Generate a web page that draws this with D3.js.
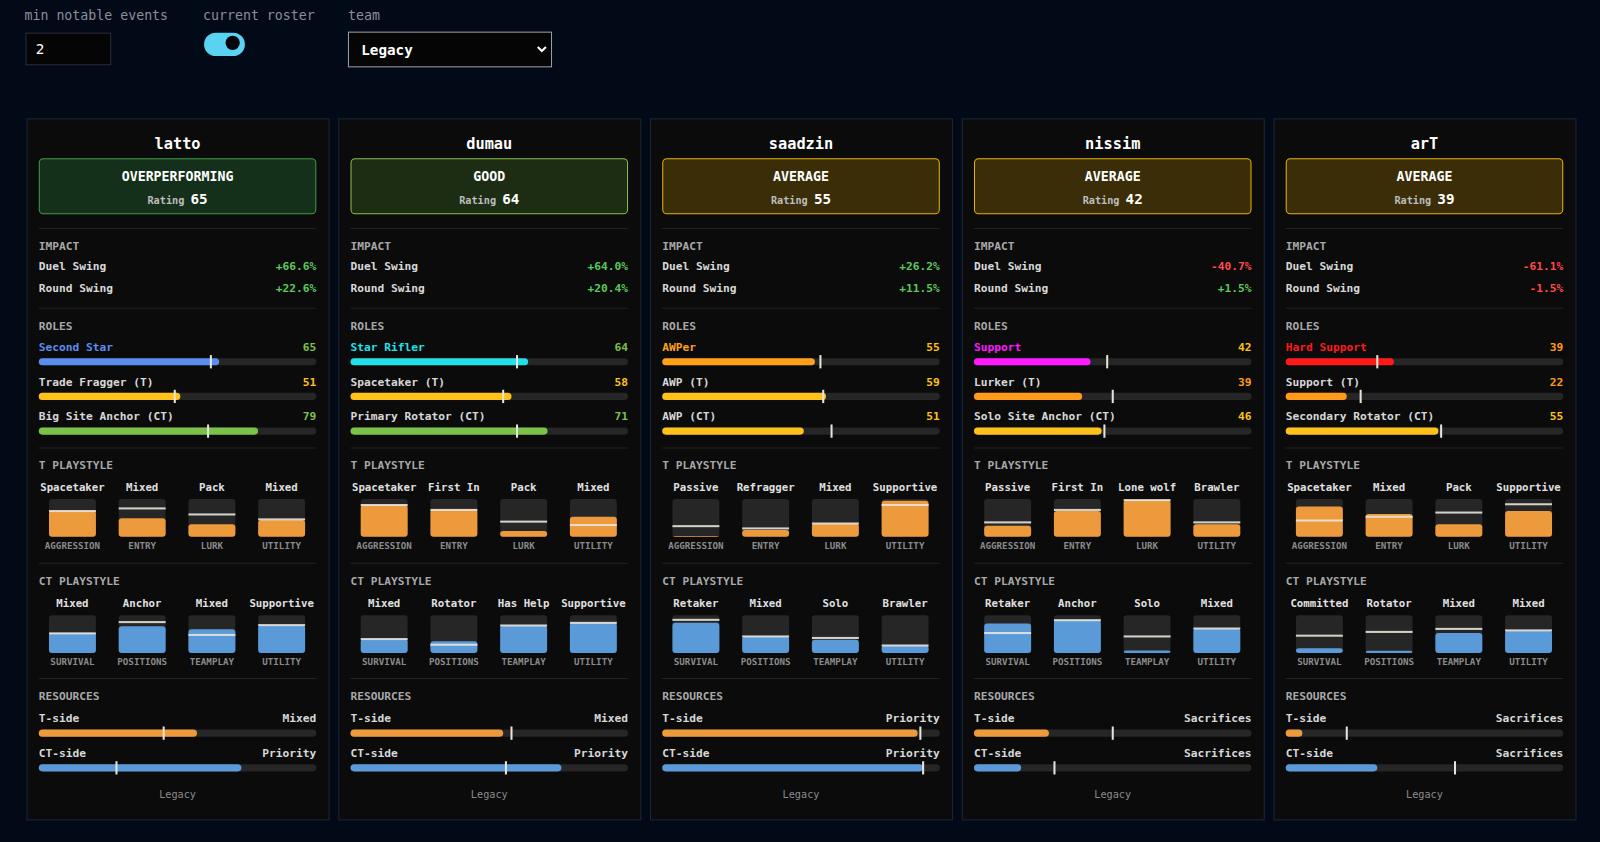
<!DOCTYPE html>
<html><head><meta charset="utf-8">
<script src="https://cdn.jsdelivr.net/npm/d3@7"></script>
<style>
body{margin:0;background:#020a18;overflow:hidden}
text{font-family:"DejaVu Sans Mono",monospace}
</style></head><body>
<svg id="chart" width="1600" height="842"></svg>
<script>
// data
const players = ["latto", "dumau", "saadzin", "nissim", "arT"];
const verdicts = ["OVERPERFORMING", "GOOD", "AVERAGE", "AVERAGE", "AVERAGE"];
const ratings = [65, 64, 55, 42, 39];
const duelSwing = [66.6, 64.0, 26.2, -40.7, -61.1];
const roundSwing = [22.6, 20.4, 11.5, 1.5, -1.5];
const roleNames = [
  ["Second Star", "Trade Fragger (T)", "Big Site Anchor (CT)"],
  ["Star Rifler", "Spacetaker (T)", "Primary Rotator (CT)"],
  ["AWPer", "AWP (T)", "AWP (CT)"],
  ["Support", "Lurker (T)", "Solo Site Anchor (CT)"],
  ["Hard Support", "Support (T)", "Secondary Rotator (CT)"]
];
const roleValues = [[65, 51, 79], [64, 58, 71], [55, 59, 51], [42, 39, 46], [39, 22, 55]];
const roleMarks = [[62, 49, 61], [60, 55, 60], [57, 58, 61], [48, 50, 47], [33, 27, 56]];
const mainRoleColors = ["#5b8def", "#22e0ea", "#ffa21a", "#ff19ff", "#ff1a1a"];
const tAxes = ["AGGRESSION", "ENTRY", "LURK", "UTILITY"];
const ctAxes = ["SURVIVAL", "POSITIONS", "TEAMPLAY", "UTILITY"];
const tLabels = [
  ["Spacetaker", "Mixed", "Pack", "Mixed"],
  ["Spacetaker", "First In", "Pack", "Mixed"],
  ["Passive", "Refragger", "Mixed", "Supportive"],
  ["Passive", "First In", "Lone wolf", "Brawler"],
  ["Spacetaker", "Mixed", "Pack", "Supportive"]
];
const tFill = [[69, 49, 33, 44], [84, 73, 15, 53], [2, 18, 35, 95], [29, 68, 97, 33], [80, 60, 33, 68]];
const tMark = [[68, 75, 59, 46], [84, 71, 40, 31], [28, 22, 35, 84], [38, 71, 97, 38], [43, 53, 64, 86]];
const ctLabels = [
  ["Mixed", "Anchor", "Mixed", "Supportive"],
  ["Mixed", "Rotator", "Has Help", "Supportive"],
  ["Retaker", "Mixed", "Solo", "Brawler"],
  ["Retaker", "Anchor", "Solo", "Mixed"],
  ["Committed", "Rotator", "Mixed", "Mixed"]
];
const ctFill = [[54, 71, 63, 74], [37, 31, 73, 80], [80, 44, 35, 20], [78, 88, 7, 65], [13, 6, 53, 60]];
const ctMark = [[52, 82, 48, 74], [37, 22, 73, 80], [88, 44, 40, 20], [53, 87, 44, 65], [46, 56, 64, 60]];
const resTLabel = ["Mixed", "Mixed", "Priority", "Sacrifices", "Sacrifices"];
const resCTLabel = ["Priority", "Priority", "Priority", "Sacrifices", "Sacrifices"];
const resTFill = [57, 55, 92, 27, 6];
const resTMark = [45, 58, 93, 50, 22];
const resCTFill = [73, 76, 94, 17, 33];
const resCTMark = [28, 56, 94, 29, 61];
const teamName = "Legacy";

const root = d3.select("#chart");
const svg = root.append("g").attr("transform", "scale(1.0204)");
const cardW = 296, cardGap = 9.5, cardX0 = 26, cardY = 116, cardH = 687;
const pad = 12, innerW = cardW - 2 * pad;
const ORANGE = "#ec9a3c", BLUE = "#5a9ad8", TRACK = "#262626";

function valColor(v) { return v >= 60 ? "#7cc24a" : v >= 40 ? "#ffc21a" : "#ff9a1a"; }
function verdictStyle(v) {
  if (v === "OVERPERFORMING") return { bg: "#15301a", st: "#3f9a48" };
  if (v === "GOOD") return { bg: "#1c2d14", st: "#86c04a" };
  return { bg: "#3a2d08", st: "#e6b400" };
}

// controls
const ctl = svg.append("g");
ctl.append("text").attr("x", 24).attr("y", 20).attr("fill", "#8a8f99").attr("font-size", 13).text("min notable events");
ctl.append("text").attr("x", 199).attr("y", 20).attr("fill", "#8a8f99").attr("font-size", 13).text("current roster");
ctl.append("text").attr("x", 341).attr("y", 20).attr("fill", "#8a8f99").attr("font-size", 13).text("team");
ctl.append("rect").attr("x", 25.5).attr("y", 32.5).attr("width", 83).attr("height", 31).attr("fill", "#050505").attr("stroke", "#2a2f38");
ctl.append("text").attr("x", 35).attr("y", 53).attr("fill", "#fff").attr("font-size", 14).text("2");
ctl.append("rect").attr("x", 200).attr("y", 32).attr("width", 40).attr("height", 23).attr("rx", 11.5).attr("fill", "#5ad3f2");
ctl.append("circle").attr("cx", 228).attr("cy", 42).attr("r", 7).attr("fill", "#05070c");
ctl.append("rect").attr("x", 341.5).attr("y", 31.5).attr("width", 199).attr("height", 34).attr("fill", "#050505").attr("stroke", "#9aa0aa");
ctl.append("text").attr("x", 354).attr("y", 54).attr("fill", "#fff").attr("font-size", 14).attr("font-weight", "bold").text(teamName);
ctl.append("path").attr("d", "M527,46 l4,4 l4,-4").attr("fill", "none").attr("stroke", "#fff").attr("stroke-width", 2);

const x = d3.scaleLinear().domain([0, 100]).range([0, innerW]);
const boxH = 37, boxW = 46;
const y = d3.scaleLinear().domain([0, 100]).range([boxH, 0]);
const boxCol = d3.scalePoint().domain(d3.range(4)).range([33, 238]);

function hbar(g, yy, fill, mark, color) {
  g.append("rect").attr("x", 0).attr("y", yy).attr("width", innerW).attr("height", 7).attr("rx", 3.5).attr("fill", TRACK);
  g.append("rect").attr("x", 0).attr("y", yy).attr("width", x(fill)).attr("height", 7).attr("rx", 3.5).attr("fill", color);
  g.append("rect").attr("x", x(mark) - 1).attr("y", yy - 3).attr("width", 2).attr("height", 13).attr("fill", "#e8e4da");
}
function divider(g, yy) {
  g.append("line").attr("x1", 0).attr("x2", innerW).attr("y1", yy).attr("y2", yy).attr("stroke", "#232323");
}
function header(g, yy, t) {
  g.append("text").attr("x", 0).attr("y", yy).attr("fill", "#a8a8a8").attr("font-size", 11).attr("font-weight", "bold").text(t);
}
function row(g, yy, left, right, rc, lc) {
  g.append("text").attr("x", 0).attr("y", yy).attr("fill", lc || "#d8d8d8").attr("font-size", 11).attr("font-weight", "bold").text(left);
  g.append("text").attr("x", innerW).attr("y", yy).attr("text-anchor", "end").attr("fill", rc || "#d8d8d8").attr("font-size", 11).attr("font-weight", "bold").text(right);
}
function boxes(g, yy, labels, axes, fills, marks, color) {
  d3.range(4).forEach(i => {
    const cx = boxCol(i), left = cx - boxW / 2;
    g.append("text").attr("x", cx).attr("y", yy).attr("text-anchor", "middle").attr("fill", "#e0e0e0").attr("font-size", 10.5).attr("font-weight", "bold").text(labels[i]);
    const by = yy + 8;
    g.append("rect").attr("x", left).attr("y", by).attr("width", boxW).attr("height", boxH).attr("rx", 3).attr("fill", TRACK);
    g.append("rect").attr("x", left).attr("y", by + y(fills[i])).attr("width", boxW).attr("height", boxH - y(fills[i])).attr("rx", 3).attr("fill", color);
    g.append("rect").attr("x", left).attr("y", by + y(marks[i]) - 1).attr("width", boxW).attr("height", 2).attr("fill", "#e8e4da").attr("opacity", 0.9);
    g.append("text").attr("x", cx).attr("y", by + boxH + 12).attr("text-anchor", "middle").attr("fill", "#8a8a8a").attr("font-size", 9).attr("font-weight", "bold").text(axes[i]);
  });
}
const fmt = v => (v >= 0 ? "+" : "") + v.toFixed(1) + "%";

players.forEach((p, k) => {
  const cx0 = cardX0 + k * (cardW + cardGap);
  const card = svg.append("g").attr("transform", `translate(${cx0},${cardY})`);
  card.append("rect").attr("x", 0.5).attr("y", 0.5).attr("width", cardW).attr("height", cardH).attr("fill", "#0b0b0c").attr("stroke", "#1c2638");
  const g = card.append("g").attr("transform", `translate(${pad},0)`);
  g.append("text").attr("x", innerW / 2).attr("y", 30).attr("text-anchor", "middle").attr("fill", "#fff").attr("font-size", 15).attr("font-weight", "bold").text(p);
  const vs = verdictStyle(verdicts[k]);
  g.append("rect").attr("x", 0.5).attr("y", 39.5).attr("width", innerW - 1).attr("height", 54).attr("rx", 4).attr("fill", vs.bg).attr("stroke", vs.st);
  g.append("text").attr("x", innerW / 2).attr("y", 61).attr("text-anchor", "middle").attr("fill", "#fff").attr("font-size", 13).attr("font-weight", "bold").text(verdicts[k]);
  const rt = g.append("text").attr("x", innerW / 2).attr("y", 84).attr("text-anchor", "middle");
  rt.append("tspan").attr("fill", "#bdbdbd").attr("font-size", 10).attr("font-weight", "bold").text("Rating ");
  rt.append("tspan").attr("fill", "#fff").attr("font-size", 14).attr("font-weight", "bold").text(ratings[k]);

  divider(g, 108);
  header(g, 129, "IMPACT");
  row(g, 149, "Duel Swing", fmt(duelSwing[k]), duelSwing[k] >= 0 ? "#5cc85c" : "#ff4a4a");
  row(g, 170, "Round Swing", fmt(roundSwing[k]), roundSwing[k] >= 0 ? "#5cc85c" : "#ff4a4a");
  divider(g, 186);
  header(g, 207, "ROLES");
  roleNames[k].forEach((r, i) => {
    const yy = 228 + i * 34;
    const col = i === 0 ? mainRoleColors[k] : valColor(roleValues[k][i]);
    row(g, yy, r, roleValues[k][i], valColor(roleValues[k][i]), i === 0 ? mainRoleColors[k] : "#d8d8d8");
    hbar(g, yy + 7, roleValues[k][i], roleMarks[k][i], col);
  });
  divider(g, 323);
  header(g, 344, "T PLAYSTYLE");
  boxes(g, 365, tLabels[k], tAxes, tFill[k], tMark[k], ORANGE);
  divider(g, 436);
  header(g, 457, "CT PLAYSTYLE");
  boxes(g, 479, ctLabels[k], ctAxes, ctFill[k], ctMark[k], BLUE);
  divider(g, 549);
  header(g, 570, "RESOURCES");
  row(g, 592, "T-side", resTLabel[k]);
  hbar(g, 599, resTFill[k], resTMark[k], ORANGE);
  row(g, 626, "CT-side", resCTLabel[k]);
  hbar(g, 633, resCTFill[k], resCTMark[k], BLUE);
  g.append("text").attr("x", innerW / 2).attr("y", 666).attr("text-anchor", "middle").attr("fill", "#8a8a8a").attr("font-size", 10).text(teamName);
});
</script></body></html>
